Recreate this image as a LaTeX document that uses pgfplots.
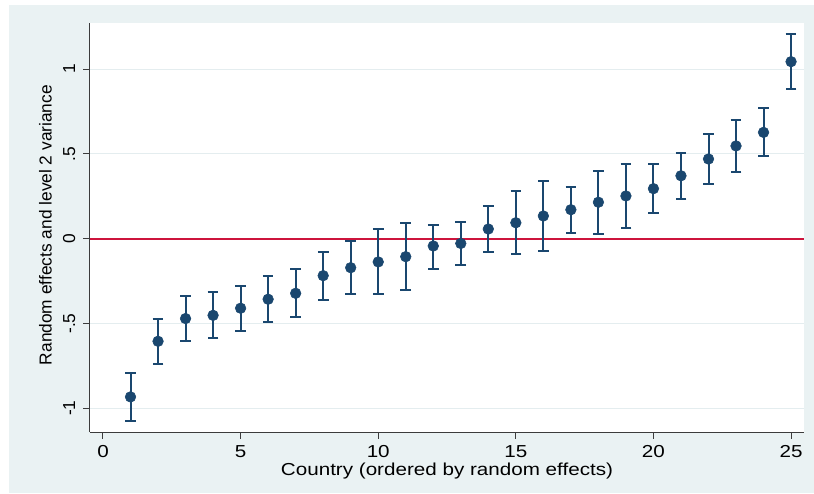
\documentclass[border=0pt]{standalone}
\usepackage{fontspec}
\setmainfont{Liberation Sans}[FakeStretch=1.19]
\newfontfamily\plainfont{Liberation Sans}
\usepackage{pgfplots}
\usepackage{pgfplotstable}
\pgfplotsset{compat=1.18}
\definecolor{stnavy}{RGB}{26,71,111}
\definecolor{stbg}{RGB}{234,242,243}
\definecolor{stgrid}{RGB}{228,237,239}
\definecolor{stred}{RGB}{205,20,60}
\definecolor{staxis}{RGB}{60,60,60}

\pgfplotstableread{
x y lo hi
1 -0.933 -1.075 -0.792
2 -0.605 -0.739 -0.473
3 -0.471 -0.601 -0.338
4 -0.452 -0.585 -0.316
5 -0.410 -0.542 -0.277
6 -0.357 -0.491 -0.220
7 -0.322 -0.464 -0.181
8 -0.218 -0.361 -0.077
9 -0.171 -0.328 -0.012
10 -0.137 -0.326 0.057
11 -0.106 -0.304 0.091
12 -0.043 -0.177 0.081
13 -0.028 -0.155 0.100
14 0.057 -0.077 0.193
15 0.094 -0.088 0.279
16 0.134 -0.073 0.342
17 0.171 0.035 0.305
18 0.215 0.029 0.401
19 0.252 0.061 0.440
20 0.295 0.150 0.439
21 0.371 0.232 0.507
22 0.470 0.324 0.619
23 0.547 0.391 0.702
24 0.627 0.489 0.769
25 1.044 0.883 1.207
}\re

\begin{document}
\begin{tikzpicture}[x=1pt,y=1pt]
\useasboundingbox (-67.5,-45.75) rectangle (543,324);
\fill[white] (-67.5,-45.75) rectangle (543,324);
\fill[stbg] (-60.75,-45.75) rectangle (543,320.25);
\begin{axis}[
  at={(0,0)}, anchor=south west,
  scale only axis, width=535.5pt, height=306.75pt,
  xmin=-0.472, xmax=25.47, ymin=-1.14, ymax=1.272,
  axis x line*=bottom, axis y line*=left,
  axis line style={staxis, line width=0.75pt, -},
  tick align=outside, major tick length=5pt,
  tick style={staxis, line width=0.75pt},
  xtick={0,5,10,15,20,25}, xticklabels={0,5,10,15,20,25},
  ytick={-1,-0.5,0,0.5,1}, yticklabels={-1,-.5,0,.5,1},
  ymajorgrids, grid style={stgrid, line width=0.75pt},
  axis background/.style={fill=white},
  /pgf/number format/assume math mode=true,
  xticklabel style={font=\fontsize{13}{15}\selectfont, anchor=base, yshift=-14pt, inner sep=0pt},
  yticklabel style={font=\plainfont\fontsize{13}{15}\selectfont, rotate=90, anchor=base, inner sep=0pt, yshift=6.2pt},
  xlabel={Country (ordered by random effects)},
  ylabel={Random effects and level 2 variance},
  xlabel style={font=\fontsize{13}{15}\selectfont, at={(axis description cs:0.5,0)}, anchor=base, yshift=-32.25pt, inner sep=0pt},
  ylabel style={font=\plainfont\fontsize{13}{15}\selectfont, at={(axis description cs:-0.0536,0.506)}, anchor=base, inner sep=0pt},
]
\addplot[stred, line width=1.4pt, forget plot] coordinates {(-0.472,0) (25.47,0)};
\addplot[only marks, mark=*, mark size=4pt, mark options={stnavy, fill=stnavy},
  error bars/.cd, y dir=both, y explicit,
  error bar style={stnavy, line width=1.5pt},
  error mark options={rotate=90, stnavy, mark size=4pt, line width=1.5pt}]
  table[x=x, y=y, y error plus expr=\thisrow{hi}-\thisrow{y}, y error minus expr=\thisrow{y}-\thisrow{lo}] {\re};
\end{axis}
\end{tikzpicture}
\end{document}
